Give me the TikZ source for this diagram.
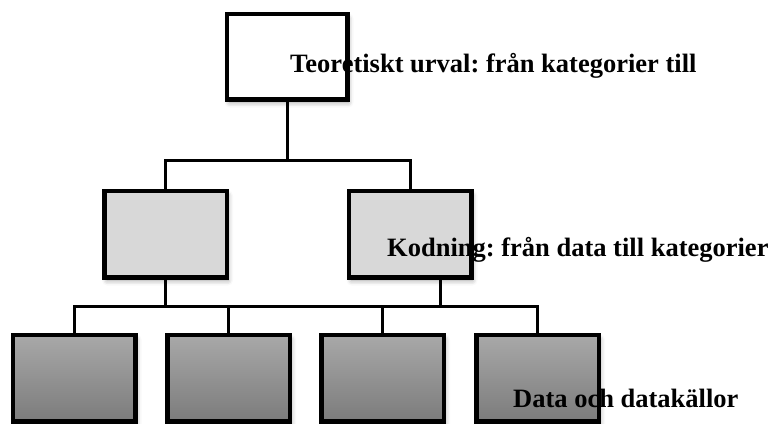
\documentclass[tikz,border=0pt]{standalone}
\usepackage{fontspec}
\setmainfont{Liberation Serif}
\usepackage{tikz}
\usetikzlibrary{shadows.blur}
\definecolor{midgray}{RGB}{216, 216, 216}
\definecolor{datatop}{RGB}{168, 168, 168}
\definecolor{databot}{RGB}{124, 124, 124}

\begin{document}
\frenchspacing
\begin{tikzpicture}[x=1pt, y=-1pt,
	boxline/.style={draw=black, line width=3pt},
	treebox/.style={rectangle, boxline, inner sep=0pt, minimum width=121pt, minimum height=85pt,
		blur shadow={shadow xshift=2pt, shadow yshift=-4pt, shadow blur radius=5pt, shadow opacity=40}},
	conn/.style={draw=black, line width=3pt},
	lbl/.style={anchor=base west, inner sep=0pt, font=\fontsize{26.5}{30}\selectfont\bfseries}]
	\clip (0,0) rectangle (775,423);
	% boxes
	\node[treebox, fill=white, minimum width=119pt, minimum height=84pt] (top) at (287,56.5) {};
	\node[treebox, fill=midgray] (kodL) at (165.5,234) {};
	\node[treebox, fill=midgray] (kodR) at (410,234) {};
	\foreach \x/\n in {74/d1, 228.5/d2, 382.5/d3, 537.5/d4}
		\node[treebox, top color=datatop, bottom color=databot] (\n) at (\x,378) {};
	
	% connectors
	\coordinate (j1) at (287,160);
	\coordinate (j2) at (165.5,306);
	\draw[conn] (top.south) -- (j1);
	\draw[conn] (kodL.north) -- (kodL.north |- j1) -- (kodR.north |- j1) -- (kodR.north);
	\draw[conn] (kodL.south) -- (j2);
	\draw[conn] ([xshift=30pt]kodR.south) -- ([xshift=30pt]kodR.south |- j2);
	\draw[conn] (d1.north) -- (d1.north |- j2) -- (d4.north |- j2) -- (d4.north);
	\draw[conn] (d2.north) -- (d2.north |- j2);
	\draw[conn] (d3.north) -- (d3.north |- j2);
	
	% labels
	\node[lbl] (urval) at (290,72) {Teoretiskt urval: från kategorier till};
	\node[lbl] (kodning) at (387,256) {Kodning: från data till kategorier};
	\node[lbl] (data) at (513,407) {Data och datakällor};
	
	% borders over the labels
	\foreach \n in {top, kodL, kodR, d1, d2, d3, d4}
		\draw[boxline] (\n.north west) rectangle (\n.south east);
\end{tikzpicture}
\end{document}
